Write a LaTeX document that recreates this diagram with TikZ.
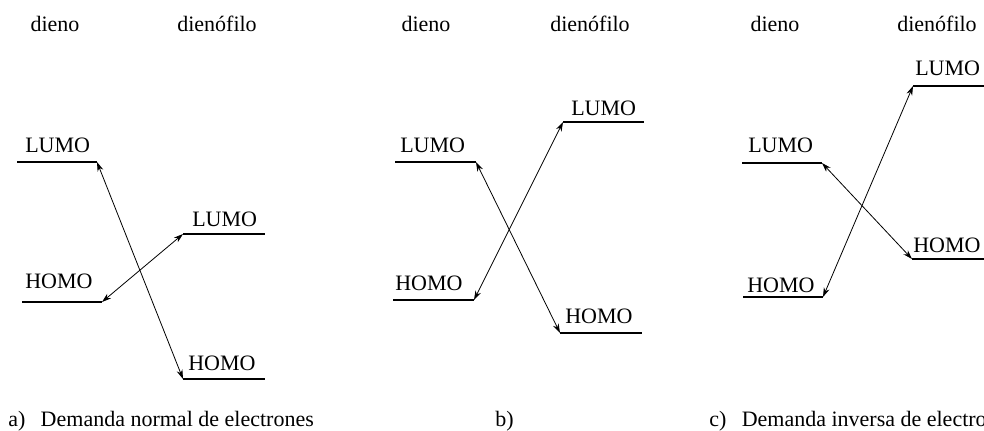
\documentclass[tikz,border=0pt]{standalone}
\usepackage{fontspec}
\setmainfont{Liberation Serif}
\usetikzlibrary{arrows.meta}
\begin{document}
\begin{tikzpicture}[x=0.75pt,y=-0.75pt,
  txt/.style={inner sep=0pt,font=\fontsize{16.5}{20}\selectfont},
  lbl/.style={txt,anchor=base west},
  hdr/.style={txt,anchor=base},
  level/.style={line width=1.2pt},
  link/.style={line width=0.6pt,{Stealth[length=7pt,width=4.5pt]}-{Stealth[length=7pt,width=4.5pt]}}]
\useasboundingbox (0,0) rectangle (984,430);
\clip (0,0) rectangle (984,430);
% headers
\node[hdr] (ha1) at (55,31) {dieno};
\node[hdr] (ha2) at (217,31) {dienófilo};
\node[hdr] (hb1) at (426,31) {dieno};
\node[hdr] (hb2) at (590,31) {dienófilo};
\node[hdr] (hc1) at (775,31) {dieno};
\node[hdr] (hc2) at (937,31) {dienófilo};
% panel a
\coordinate (aLl) at (17,162); \coordinate (aLr) at (97,162);
\coordinate (aHl) at (22,302); \coordinate (aHr) at (102,302);
\coordinate (afLl) at (183,234); \coordinate (afLr) at (265,234);
\coordinate (afHl) at (183,379); \coordinate (afHr) at (265,379);
\draw[level] (aLl) -- (aLr);
\draw[level] (aHl) -- (aHr);
\draw[level] (afLl) -- (afLr);
\draw[level] (afHl) -- (afHr);
\node[lbl] (taL) at (25,152) {LUMO};
\node[lbl] (taH) at (25,288) {HOMO};
\node[lbl] (tafL) at (192,226) {LUMO};
\node[lbl] (tafH) at (188,370) {HOMO};
\draw[link] (aLr) -- (afHl);
\draw[link] (aHr) -- (afLl);
% panel b
\coordinate (bLl) at (395,162); \coordinate (bLr) at (476,162);
\coordinate (bHl) at (393,300); \coordinate (bHr) at (474,300);
\coordinate (bfLl) at (563,122); \coordinate (bfLr) at (644,122);
\coordinate (bfHl) at (560,333); \coordinate (bfHr) at (642,333);
\draw[level] (bLl) -- (bLr);
\draw[level] (bHl) -- (bHr);
\draw[level] (bfLl) -- (bfLr);
\draw[level] (bfHl) -- (bfHr);
\node[lbl] (tbL) at (400,152) {LUMO};
\node[lbl] (tbH) at (395,290) {HOMO};
\node[lbl] (tbfL) at (571,115) {LUMO};
\node[lbl] (tbfH) at (565,323) {HOMO};
\draw[link] (bLr) -- (bfHl);
\draw[link] (bHr) -- (bfLl);
% panel c
\coordinate (cLl) at (742,163); \coordinate (cLr) at (822,163);
\coordinate (cHl) at (743,297); \coordinate (cHr) at (823,297);
\coordinate (cfLl) at (913,86); \coordinate (cfLr) at (990,86);
\coordinate (cfHl) at (912,259); \coordinate (cfHr) at (990,259);
\draw[level] (cLl) -- (cLr);
\draw[level] (cHl) -- (cHr);
\draw[level] (cfLl) -- (cfLr);
\draw[level] (cfHl) -- (cfHr);
\node[lbl] (tcL) at (748,152) {LUMO};
\node[lbl] (tcH) at (747,292) {HOMO};
\node[lbl] (tcfL) at (915,75) {LUMO};
\node[lbl] (tcfH) at (913,252) {HOMO};
\draw[link] (cLr) -- (cfHl);
\draw[link] (cHr) -- (cfLl);
% captions
\node[lbl] (capa) at (8,426) {a)\hspace{0.45em} Demanda normal de electrones};
\node[lbl] (capb) at (495,426) {b)};
\node[lbl] (capc) at (709,426) {c)\hspace{0.45em} Demanda inversa de electrones};
\end{tikzpicture}
\end{document}
